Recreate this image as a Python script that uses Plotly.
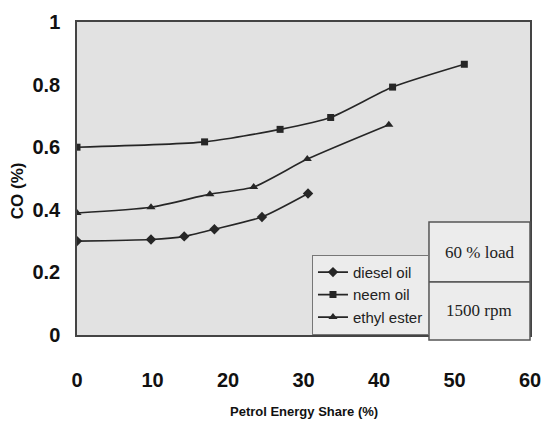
import plotly.graph_objects as go

# Data
diesel_x = [0, 9.8, 14.2, 18.2, 24.5, 30.6]
diesel_y = [0.30, 0.305, 0.315, 0.338, 0.377, 0.452]

neem_x = [0, 16.9, 26.9, 33.6, 41.8, 51.3]
neem_y = [0.60, 0.617, 0.657, 0.695, 0.792, 0.865]

ester_x = [0, 9.8, 17.6, 23.4, 30.5, 41.3]
ester_y = [0.39, 0.408, 0.45, 0.473, 0.562, 0.672]

x_ticks = [0, 10, 20, 30, 40, 50, 60]
y_ticks = [0, 0.2, 0.4, 0.6, 0.8, 1]
y_ticklabels = ["0", "0.2", "0.4", "0.6", "0.8", "1"]

sans = "Liberation Sans, Arial, sans-serif"
serif = "Liberation Serif, Times New Roman, serif"

fig = go.Figure()
series = [
    ("diesel oil", diesel_x, diesel_y, "diamond", 8),
    ("neem oil", neem_x, neem_y, "square", 7),
    ("ethyl ester", ester_x, ester_y, "triangle-up", 8),
]
for name, xs, ys, sym, sz in series:
    fig.add_trace(go.Scatter(
        x=xs, y=ys, name=name, mode="lines+markers",
        line=dict(color="#262626", width=1.6, shape="spline", smoothing=0.6),
        marker=dict(symbol=sym, size=sz, color="#262626"),
    ))

fig.update_layout(
    width=542, height=424,
    margin=dict(l=77, r=12, t=22, b=89),
    paper_bgcolor="white",
    plot_bgcolor="#e2e2e2",
    showlegend=True,
    legend=dict(
        x=0.777, y=0.256, xanchor="right", yanchor="top",
        bgcolor="#ececec", bordercolor="#777777", borderwidth=1,
        font=dict(family=sans, size=15, color="#222222"),
        tracegroupgap=0, itemwidth=30,
    ),
    xaxis=dict(
        range=[0, 60], tickvals=x_ticks, showgrid=False, zeroline=False,
        showline=True, linecolor="#444444", linewidth=1.5, mirror=True,
        ticks="", ticklabelstandoff=26, automargin=False,
        tickfont=dict(family=sans, size=20, color="#111111", weight="bold"),
    ),
    yaxis=dict(
        range=[0, 1], tickvals=y_ticks, ticktext=y_ticklabels,
        showgrid=False, zeroline=False,
        showline=True, linecolor="#444444", linewidth=1.5, mirror=True,
        ticks="", ticklabelstandoff=11, automargin=False,
        tickfont=dict(family=sans, size=20, color="#111111", weight="bold"),
    ),
)

# Axis titles
fig.add_annotation(text="<b>Petrol Energy Share (%)</b>", xref="paper", yref="paper",
                   x=0.5, y=-0.243, xanchor="center", yanchor="middle", showarrow=False,
                   font=dict(family=sans, size=13, color="#111111"))
fig.add_annotation(text="<b>CO (%)</b>", xref="paper", yref="paper",
                   x=-0.132, y=0.46, xanchor="center", yanchor="middle",
                   showarrow=False, textangle=-90,
                   font=dict(family=sans, size=17, color="#111111"))

# Condition boxes
fig.add_shape(type="rect", xref="paper", yref="paper", x0=0.777, x1=1.0, y0=0.169, y1=0.361,
              line=dict(color="#555555", width=1.5), fillcolor="#ececec")
fig.add_shape(type="rect", xref="paper", yref="paper", x0=0.777, x1=1.0, y0=-0.016, y1=0.169,
              line=dict(color="#555555", width=1.5), fillcolor="#ececec")
fig.add_annotation(text="60 % load", xref="paper", yref="paper", x=0.888, y=0.265,
                   xanchor="center", yanchor="middle",
                   showarrow=False, font=dict(family=serif, size=17, color="#222222"))
fig.add_annotation(text="1500 rpm", xref="paper", yref="paper", x=0.888, y=0.077,
                   xanchor="center", yanchor="middle",
                   showarrow=False, font=dict(family=serif, size=17, color="#222222"))

fig.write_html("out.html")
